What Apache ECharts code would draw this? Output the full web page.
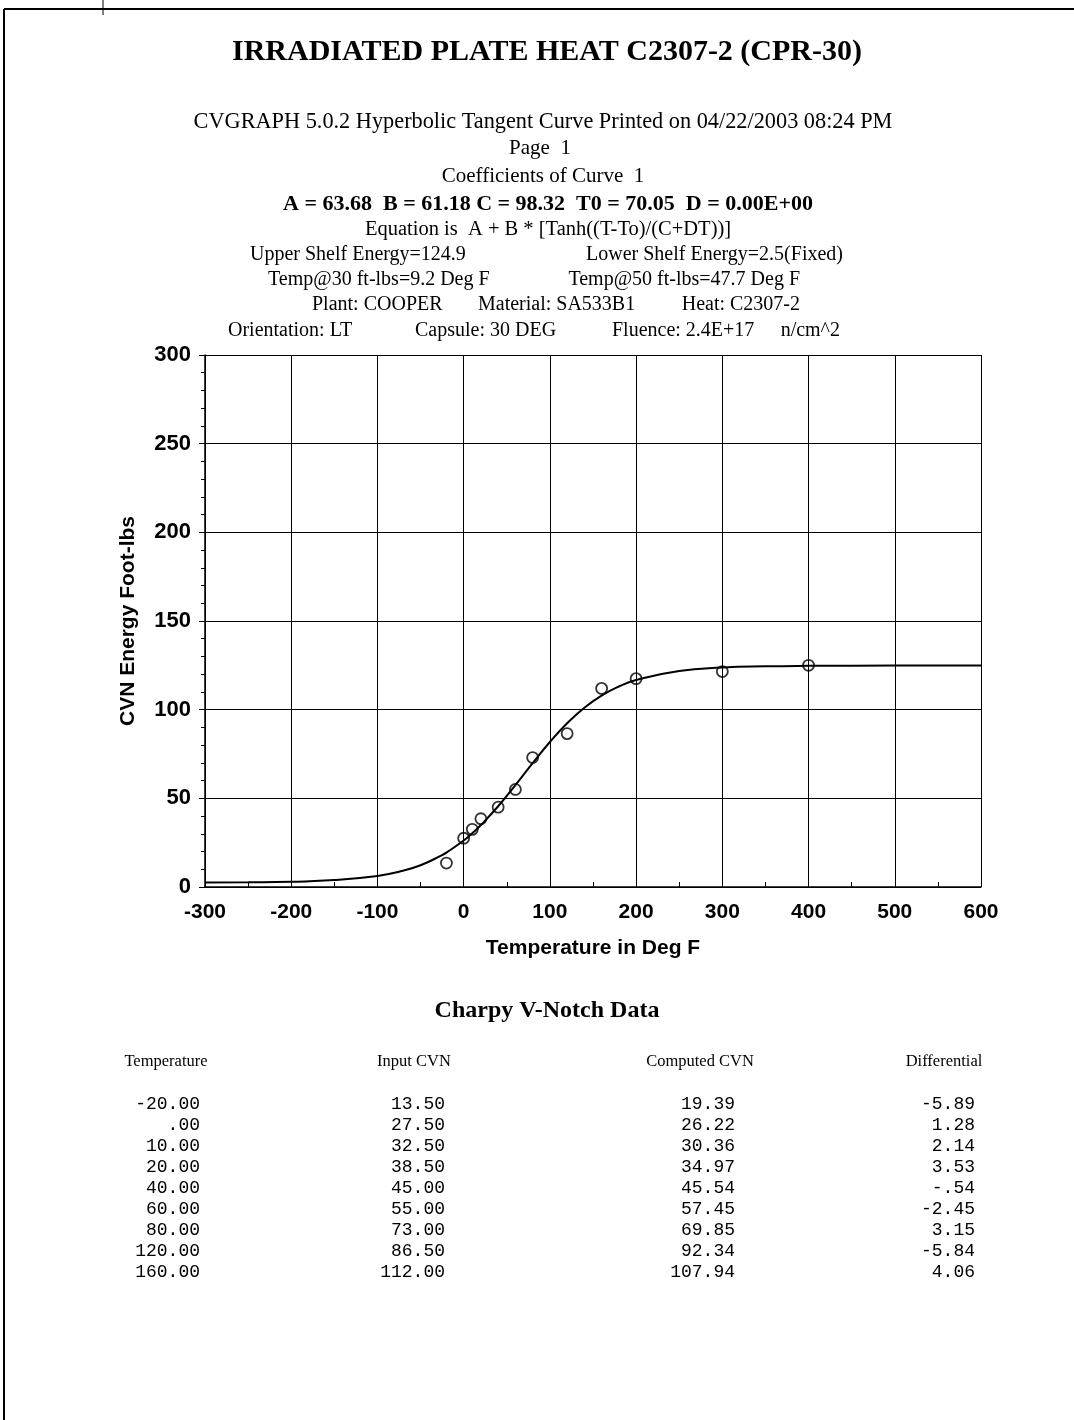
<!DOCTYPE html>
<html><head><meta charset="utf-8">
<script src="https://cdn.jsdelivr.net/npm/echarts@6/dist/echarts.min.js"></script>
<style>html,body{margin:0;padding:0;background:#fff}#c{width:1074px;height:1420px}</style>
</head><body><div id="c"></div>
<script>
// ---- data ----
const pointTemps = [-20, 0, 10, 20, 40, 60, 80, 120, 160, 200, 300, 400];
const pointCVN = [13.5, 27.5, 32.5, 38.5, 45.0, 55.0, 73.0, 86.5, 112.0, 117.5, 121.5, 125.0];
const curveTemps = [-300, -250, -200, -150, -100, -75, -50, -25, -20, 0, 10, 20, 40, 60, 80, 100, 120, 140, 160, 180, 200, 250, 300, 350, 400, 500, 600];
const curveCVN = [2.57, 2.68, 3.00, 3.88, 6.23, 8.58, 12.29, 17.96, 19.39, 26.22, 30.36, 34.97, 45.54, 57.45, 69.85, 81.76, 92.34, 101.10, 107.94, 113.05, 116.74, 121.79, 123.73, 124.45, 124.71, 124.84, 124.86];
const tableTemp = [-20, 0, 10, 20, 40, 60, 80, 120, 160];
const tableInput = [13.50, 27.50, 32.50, 38.50, 45.00, 55.00, 73.00, 86.50, 112.00];
const tableComputed = [19.39, 26.22, 30.36, 34.97, 45.54, 57.45, 69.85, 92.34, 107.94];
const tableDiff = [-5.89, 1.28, 2.14, 3.53, -0.54, -2.45, 3.15, -5.84, 4.06];
const tableHeaders = ['Temperature', 'Input CVN', 'Computed CVN', 'Differential'];
const xTicks = {min: -300, max: 600, interval: 100};
const yTicks = {min: 0, max: 300, interval: 50};
const titleText = 'IRRADIATED PLATE HEAT C2307-2 (CPR-30)';
const headerLines = [
  'CVGRAPH 5.0.2 Hyperbolic Tangent Curve Printed on 04/22/2003 08:24 PM',
  'Page  1',
  'Coefficients of Curve  1'
];
const coefLine = 'A = 63.68  B = 61.18 C = 98.32  T0 = 70.05  D = 0.00E+00';
const equationLine = 'Equation is  A + B * [Tanh((T-To)/(C+DT))]';
const shelfTexts = ['Upper Shelf Energy=124.9', 'Lower Shelf Energy=2.5(Fixed)'];
const tempTexts = ['Temp@30 ft-lbs=9.2 Deg F', 'Temp@50 ft-lbs=47.7 Deg F'];
const plantTexts = ['Plant: COOPER', 'Material: SA533B1', 'Heat: C2307-2'];
const orientTexts = ['Orientation: LT', 'Capsule: 30 DEG', 'Fluence: 2.4E+17', 'n/cm^2'];
const tableTitle = 'Charpy V-Notch Data';

// ---- rendering ----
const serif = 'Liberation Serif, Times New Roman, serif';
const sans = 'Liberation Sans, Arial, sans-serif';
const mono = 'Liberation Mono, DejaVu Sans Mono, monospace';
function fmt(v) { return v.toFixed(2).replace(/^(-?)0\./, '$1.'); }
function txt(text, x, y, size, opts) {
  opts = opts || {};
  return {type: 'text', x: x, y: y, silent: true, style: {
    text: text, fill: '#000', font: (opts.bold ? 'bold ' : '') + size + 'px ' + (opts.family || serif),
    textAlign: opts.align || 'center', textVerticalAlign: 'middle'}};
}
const g = [];
g.push(txt(titleText, 547, 52, 30, {bold: true}));
g.push(txt(headerLines[0], 543, 122, 22.3));
g.push(txt(headerLines[1], 540, 148, 21));
g.push(txt(headerLines[2], 543, 176, 21));
g.push(txt(coefLine, 548, 204, 22, {bold: true}));
g.push(txt(equationLine, 548, 230, 20.5));
g.push(txt(shelfTexts[0], 250, 255, 20, {align: 'left'}));
g.push(txt(shelfTexts[1], 843, 255, 20, {align: 'right'}));
g.push(txt(tempTexts[0], 268, 280, 20, {align: 'left'}));
g.push(txt(tempTexts[1], 800, 280, 20, {align: 'right'}));
g.push(txt(plantTexts[0], 312, 305, 20, {align: 'left'}));
g.push(txt(plantTexts[1], 478, 305, 20, {align: 'left'}));
g.push(txt(plantTexts[2], 800, 305, 20, {align: 'right'}));
g.push(txt(orientTexts[0], 228, 331, 20, {align: 'left'}));
g.push(txt(orientTexts[1], 415, 331, 20, {align: 'left'}));
g.push(txt(orientTexts[2], 612, 331, 20, {align: 'left'}));
g.push(txt(orientTexts[3], 840, 331, 20, {align: 'right'}));
g.push(txt(tableTitle, 547, 1011, 24, {bold: true}));
const colCenters = [166, 414, 700, 944];
const colRights = [200, 445, 735, 975];
tableHeaders.forEach((h, i) => g.push(txt(h, colCenters[i], 1062, 16.5)));
const cols = [tableTemp, tableInput, tableComputed, tableDiff];
tableTemp.forEach((_, r) => {
  cols.forEach((col, i) => g.push(txt(fmt(col[r]), colRights[i], 1104 + r * 21, 18, {align: 'right', family: mono})));
});
// page border (top and left)
g.push({type: 'line', silent: true, shape: {x1: 4, y1: 9, x2: 1074, y2: 9}, style: {stroke: '#000', lineWidth: 2}});
g.push({type: 'line', silent: true, shape: {x1: 4, y1: 9, x2: 4, y2: 1420}, style: {stroke: '#000', lineWidth: 2}});
g.push({type: 'line', silent: true, shape: {x1: 103, y1: 0, x2: 103, y2: 15}, style: {stroke: '#000', lineWidth: 1}});

const chart = echarts.init(document.getElementById('c'), null, {renderer: 'canvas'});
chart.setOption({
  backgroundColor: '#fff',
  animation: false,
  grid: {left: 205, top: 355, width: 776, height: 532, show: false},
  xAxis: {
    type: 'value', min: xTicks.min, max: xTicks.max, interval: xTicks.interval,
    name: 'Temperature in Deg F', nameLocation: 'middle', nameGap: 51,
    nameTextStyle: {fontFamily: sans, fontWeight: 'bold', fontSize: 21, color: '#000'},
    axisLine: {show: true, onZero: false, lineStyle: {color: '#000', width: 1.5}},
    axisTick: {show: true, inside: true, length: 5, lineStyle: {color: '#000'}},
    minorTick: {show: true, splitNumber: 2, length: 5, lineStyle: {color: '#000'}},
    axisLabel: {fontFamily: sans, fontWeight: 'bold', fontSize: 21, color: '#000', margin: 15},
    splitLine: {show: true, showMinLine: true, showMaxLine: true, lineStyle: {color: '#000', width: 1}}
  },
  yAxis: {
    type: 'value', min: yTicks.min, max: yTicks.max, interval: yTicks.interval,
    name: 'CVN Energy Foot-lbs', nameLocation: 'middle', nameGap: 66,
    nameTextStyle: {fontFamily: sans, fontWeight: 'bold', fontSize: 21, color: '#000'},
    axisLine: {show: true, onZero: false, lineStyle: {color: '#000', width: 1.5}},
    axisTick: {show: true, inside: false, length: 6, lineStyle: {color: '#000'}},
    minorTick: {show: true, splitNumber: 5, length: 4, lineStyle: {color: '#000'}},
    axisLabel: {fontFamily: sans, fontWeight: 'bold', fontSize: 22, color: '#000', margin: 14},
    splitLine: {show: true, lineStyle: {color: '#000', width: 1}}
  },
  series: [
    {
      type: 'line', smooth: true, showSymbol: false, silent: true,
      lineStyle: {color: '#000', width: 2},
      data: curveTemps.map((t, i) => [t, curveCVN[i]]), z: 3
    },
    {
      type: 'scatter', symbol: 'circle', symbolSize: 11, silent: true,
      itemStyle: {color: 'rgba(255,255,255,0)', borderColor: '#000', borderWidth: 1.8},
      data: pointTemps.map((t, i) => [t, pointCVN[i]]), z: 4
    }
  ],
  graphic: g
});
</script></body></html>
